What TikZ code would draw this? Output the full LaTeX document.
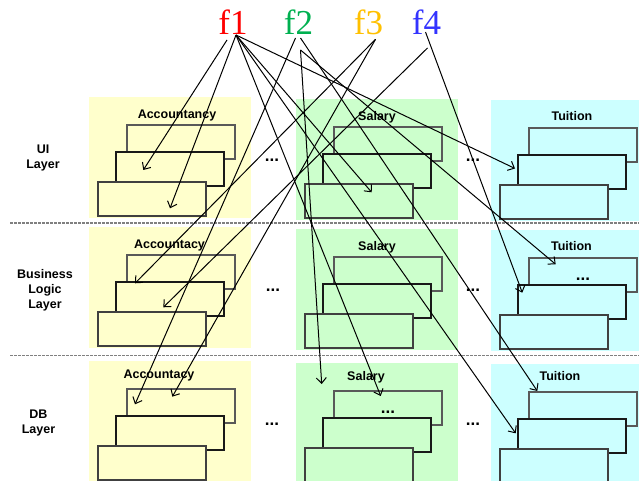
\documentclass[tikz,border=0pt]{standalone}
\usepackage{fontspec}
\setmainfont{Liberation Sans}
\newfontfamily\fserif{Liberation Serif}
\usetikzlibrary{arrows.meta,positioning}

\definecolor{fillacc}{HTML}{FFFFCC}
\definecolor{fillsal}{HTML}{CCFFCC}
\definecolor{filltui}{HTML}{CCFFFF}
\definecolor{fred}{HTML}{FF0000}
\definecolor{fgreen}{HTML}{00B050}
\definecolor{forange}{HTML}{FFC000}
\definecolor{fblue}{HTML}{3333FF}

\begin{document}
\begin{tikzpicture}[x=1pt,y=-1pt,>={Straight Barb[length=5.5pt,width=10pt]},
	every node/.style={inner sep=0pt,outer sep=0pt},
	panel/.style={anchor=north west,minimum height=121},
	card/.style={draw,anchor=north west,minimum width=108,minimum height=34,line width=1.1pt},
	title/.style={font=\fontsize{12.5}{15}\selectfont\bfseries,anchor=base},
	layer/.style={font=\fontsize{12.5}{15}\selectfont\bfseries,align=center},
	more/.style={font=\fontsize{17}{17}\selectfont\bfseries,anchor=base},
	func/.style={font=\fontsize{35}{35}\selectfont\fserif,anchor=base},
	sep/.style={dash pattern=on 2.5pt off 1.5pt,line width=1.3pt,black!50},
	link/.style={->,line width=1pt}]

	\useasboundingbox (0,0) rectangle (639,481);

	% layer separators
	\draw [sep] (10,223) -- (639,223);
	\draw [sep] (10,355.5) -- (639,355.5);

	% one panel with three stacked cards per layer and subsystem
	\foreach \row/\top/\h in {ui/97/121, bl/227/121, db/361/120}
		\foreach \col/\x/\w/\dy in {acc/89/162/0, sal/296/162/2, tui/491/148/3} {
			\node [panel, fill=fill\col, minimum width=\w, minimum height=\h] (\row\col) at (\x,\top+\dy) {};
			\node [card, fill=fill\col, draw=black!65] (\row\col1) at ([xshift=38pt,yshift=-28pt]\row\col.north west) {};
			\node [card, fill=fill\col, draw=black!90] (\row\col2) at ([xshift=27pt,yshift=-55pt]\row\col.north west) {};
			\node [card, fill=fill\col, draw=black!75] (\row\col3) at ([xshift=9pt,yshift=-85pt]\row\col.north west) {};
		}

	% panel titles
	\node [title] (uiacct) at (177,118.5) {Accountancy};
	\node [title] (uisalt) at (377,121)   {Salary};
	\node [title] (uituit) at (572,121)   {Tuition};
	\node [title] (blacct) at (169.5,248) {Accountacy};
	\node [title] (blsalt) at (377,250)   {Salary};
	\node [title] (bltuit) at (571.5,250) {Tuition};
	\node [title] (dbacct) at (159,378)   {Accountacy};
	\node [title] (dbsalt) at (366,380)   {Salary};
	\node [title] (dbtuit) at (560,380)   {Tuition};

	% layer names
	\node [layer] (uilab) at (43,158)   {UI\\Layer};
	\node [layer] (bllab) at (45,290)   {Business\\Logic\\Layer};
	\node [layer] (dblab) at (38.5,423) {DB\\Layer};

	% omitted subsystems and cards
	\node [more] (uigap1) at (272,161.5) {...};
	\node [more] (uigap2) at (473,161.5) {...};
	\node [more] (blgap1) at (273,291.5) {...};
	\node [more] (blgap2) at (473,291.5) {...};
	\node [more] (dbgap1) at (272,425.5) {...};
	\node [more] (dbgap2) at (473,425.5) {...};
	\node [more] (bltuimore) at (583,280.5) {...};
	\node [more] (dbsalmore) at (388,413.5) {...};

	% features
	\node [func, fred]    (f1) at (233,35)   {f1};
	\node [func, fgreen]  (f2) at (298.5,35) {f2};
	\node [func, forange] (f3) at (368.5,35) {f3};
	\node [func, fblue]   (f4) at (426.5,35) {f4};

	% where each feature touches a card
	\coordinate (uiacc2in) at (143.3,170);
	\coordinate (uiacc3in) at (170,208.3);
	\coordinate (uisal3in) at (371.7,192.3);
	\coordinate (uitui2in) at (515,168.5);
	\coordinate (blacc2in) at (135,283.3);
	\coordinate (blacc3in) at (163.3,307.3);
	\coordinate (bltui1in) at (555.7,264.3);
	\coordinate (bltui2in) at (522.3,292.7);
	\coordinate (dbacc1in) at (135,404.3);
	\coordinate (dbacc1on) at (172.3,396.7);
	\coordinate (dbsalin)  at (321.7,384);
	\coordinate (dbsal1in) at (380.7,396);
	\coordinate (dbtui1in) at (537.3,391);
	\coordinate (dbtui2in) at (515.7,433.3);

	\path [link]	([xshift=-6pt,yshift=-5pt]f1.south)	edge	(uiacc2in)
				([xshift=3pt]f1.south)				edge	(uiacc3in)
				([xshift=3pt]f1.south)				edge	(uisal3in)
				([xshift=3pt]f1.south)				edge	(uitui2in)
				([xshift=3pt]f1.south)				edge	(dbsal1in)
				([xshift=3pt]f1.south)				edge	(dbtui2in)
				([xshift=-3pt,yshift=-3pt]f2.south)	edge	(dbacc1in)
				([xshift=2pt,yshift=-3pt]f2.south)	edge	(dbtui1in)
				([xshift=2pt,yshift=-15pt]f2.south)	edge	(dbsalin)
				([xshift=2pt,yshift=-15pt]f2.south)	edge	(bltui1in)
				([xshift=7pt,yshift=-4pt]f3.south)	edge	(blacc2in)
				([xshift=7pt,yshift=-4pt]f3.south)	edge	(dbacc1on)
				([xshift=1pt,yshift=-13pt]f4.south)	edge	(blacc3in)
				([xshift=-1pt,yshift=3pt]f4.south)	edge	(bltui2in);

\end{tikzpicture}
\end{document}
